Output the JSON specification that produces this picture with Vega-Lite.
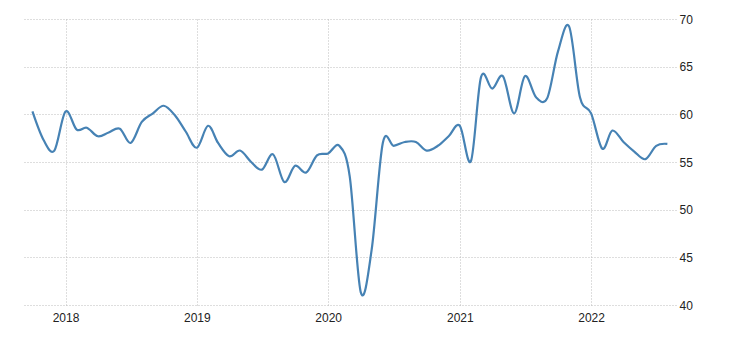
{
  "$schema": "https://vega.github.io/schema/vega-lite/v6.json",
  "autosize": "none",
  "padding": {"left": 22, "top": 19, "right": 54, "bottom": 35},
  "width": 654,
  "height": 286,
  "background": "white",
  "config": {"view": {"stroke": null}},
  "data": {"values": [
    {"date": "2017-10-01", "value": 60.3},
    {"date": "2017-11-01", "value": 57.3},
    {"date": "2017-12-01", "value": 56.2},
    {"date": "2018-01-01", "value": 60.3},
    {"date": "2018-02-01", "value": 58.4},
    {"date": "2018-03-01", "value": 58.6},
    {"date": "2018-04-01", "value": 57.7},
    {"date": "2018-05-01", "value": 58.1},
    {"date": "2018-06-01", "value": 58.5},
    {"date": "2018-07-01", "value": 57.0},
    {"date": "2018-08-01", "value": 59.2},
    {"date": "2018-09-01", "value": 60.1},
    {"date": "2018-10-01", "value": 60.9},
    {"date": "2018-11-01", "value": 59.9},
    {"date": "2018-12-01", "value": 58.2},
    {"date": "2019-01-01", "value": 56.5},
    {"date": "2019-02-01", "value": 58.8},
    {"date": "2019-03-01", "value": 57.0},
    {"date": "2019-04-01", "value": 55.6},
    {"date": "2019-05-01", "value": 56.2},
    {"date": "2019-06-01", "value": 55.0},
    {"date": "2019-07-01", "value": 54.2},
    {"date": "2019-08-01", "value": 55.8},
    {"date": "2019-09-01", "value": 52.9},
    {"date": "2019-10-01", "value": 54.6},
    {"date": "2019-11-01", "value": 53.9},
    {"date": "2019-12-01", "value": 55.7},
    {"date": "2020-01-01", "value": 55.9},
    {"date": "2020-02-01", "value": 56.7},
    {"date": "2020-03-01", "value": 53.5},
    {"date": "2020-04-01", "value": 41.3},
    {"date": "2020-05-01", "value": 45.8},
    {"date": "2020-06-01", "value": 57.0},
    {"date": "2020-07-01", "value": 56.7},
    {"date": "2020-08-01", "value": 57.1},
    {"date": "2020-09-01", "value": 57.1},
    {"date": "2020-10-01", "value": 56.2},
    {"date": "2020-11-01", "value": 56.7},
    {"date": "2020-12-01", "value": 57.7},
    {"date": "2021-01-01", "value": 58.8},
    {"date": "2021-02-01", "value": 55.1},
    {"date": "2021-03-01", "value": 63.9},
    {"date": "2021-04-01", "value": 62.7},
    {"date": "2021-05-01", "value": 64.0},
    {"date": "2021-06-01", "value": 60.1},
    {"date": "2021-07-01", "value": 64.0},
    {"date": "2021-08-01", "value": 61.8},
    {"date": "2021-09-01", "value": 61.7},
    {"date": "2021-10-01", "value": 66.6},
    {"date": "2021-11-01", "value": 69.2},
    {"date": "2021-12-01", "value": 61.8},
    {"date": "2022-01-01", "value": 60.1},
    {"date": "2022-02-01", "value": 56.4},
    {"date": "2022-03-01", "value": 58.3},
    {"date": "2022-04-01", "value": 57.1},
    {"date": "2022-05-01", "value": 56.1},
    {"date": "2022-06-01", "value": 55.3},
    {"date": "2022-07-01", "value": 56.7},
    {"date": "2022-08-01", "value": 56.9}
  ]},
  "mark": {"type": "line", "interpolate": "cardinal", "color": "#4682b4", "strokeWidth": 2.2, "clip": true},
  "encoding": {
    "x": {
      "field": "date", "type": "temporal", "title": null,
      "scale": {"domain": [{"year": 2017, "month": 9, "date": 2}, {"year": 2022, "month": 8, "date": 25}]},
      "axis": {
        "format": "%Y", "tickCount": {"interval": "year", "step": 1},
        "ticks": false, "domain": false, "labelPadding": 7,
        "grid": true, "gridColor": "#bdbdbd", "gridDash": [1, 2], "gridWidth": 1,
        "labelFont": "Liberation Sans", "labelFontSize": 12, "labelColor": "#222", "labelFlush": false
      }
    },
    "y": {
      "field": "value", "type": "quantitative", "title": null,
      "scale": {"domain": [40, 70], "nice": false, "zero": false},
      "axis": {
        "orient": "right", "values": [40, 45, 50, 55, 60, 65, 70],
        "ticks": false, "domain": false, "labelPadding": 3,
        "grid": true, "gridColor": "#bdbdbd", "gridDash": [1, 2], "gridWidth": 1,
        "labelFont": "Liberation Sans", "labelFontSize": 12, "labelColor": "#222"
      }
    }
  }
}
